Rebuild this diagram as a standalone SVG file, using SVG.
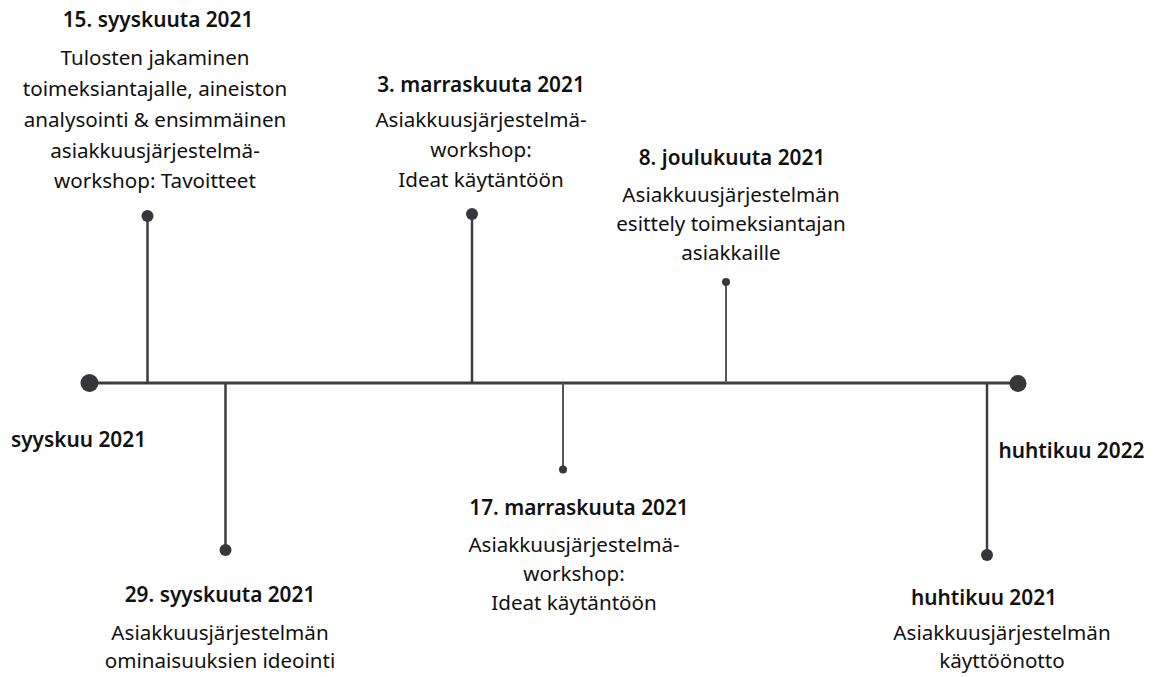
<svg xmlns="http://www.w3.org/2000/svg" width="1159" height="677" viewBox="0 0 1159 677">
<style>
.t{font-family:"Noto Sans","Open Sans",sans-serif;font-size:20.8px;font-weight:600;fill:#111;text-anchor:middle}
.b{font-family:"Noto Sans","Open Sans",sans-serif;font-size:20.6px;font-weight:400;fill:#111;text-anchor:middle}
.main{stroke:#3c3c43;stroke-width:3;fill:none}
.stem{stroke:#3c3c43;stroke-width:2.5;fill:none}
.thin{stroke:#55555b;stroke-width:2;fill:none}
.dot{fill:#36363d}
</style>
<rect width="1159" height="677" fill="#fff"/>
<g id="connectors">
<line class="main" x1="90" y1="383" x2="1018" y2="383"/>
<line class="stem" x1="147.5" y1="216" x2="147.5" y2="383"/>
<line class="stem" x1="225.5" y1="383" x2="225.5" y2="550"/>
<line class="stem" x1="472" y1="214" x2="472" y2="383"/>
<line class="thin" x1="563" y1="383" x2="563" y2="469"/>
<line class="thin" x1="726" y1="282" x2="726" y2="383"/>
<line class="stem" x1="987" y1="383" x2="987" y2="555"/>
</g>
<g id="start">
<circle class="dot" cx="89.5" cy="383" r="9"/>
<text class="t" x="78.5" y="447">syyskuu 2021</text>
</g>
<g id="end">
<circle class="dot" cx="1018" cy="383.5" r="8.5"/>
<text class="t" x="1071.5" y="458">huhtikuu 2022</text>
</g>
<g id="e1">
<circle class="dot" cx="147.5" cy="216" r="6"/>
<text class="t" x="158" y="27">15. syyskuuta 2021</text>
<text class="b" x="155" y="65">Tulosten jakaminen</text>
<text class="b" x="155" y="96">toimeksiantajalle, aineiston</text>
<text class="b" x="155" y="127">analysointi &amp; ensimmäinen</text>
<text class="b" x="155" y="158">asiakkuusjärjestelmä-</text>
<text class="b" x="155" y="188">workshop: Tavoitteet</text>
</g>
<g id="e2">
<circle class="dot" cx="225.5" cy="550" r="6"/>
<text class="t" x="220" y="602">29. syyskuuta 2021</text>
<text class="b" x="220" y="640">Asiakkuusjärjestelmän</text>
<text class="b" x="220" y="668">ominaisuuksien ideointi</text>
</g>
<g id="e3">
<circle class="dot" cx="472" cy="214" r="6"/>
<text class="t" x="481" y="92">3. marraskuuta 2021</text>
<text class="b" x="481" y="127">Asiakkuusjärjestelmä-</text>
<text class="b" x="481" y="157">workshop:</text>
<text class="b" x="481" y="187">Ideat käytäntöön</text>
</g>
<g id="e4">
<circle class="dot" cx="563" cy="469.5" r="4"/>
<text class="t" x="579" y="515">17. marraskuuta 2021</text>
<text class="b" x="574" y="552">Asiakkuusjärjestelmä-</text>
<text class="b" x="574" y="581">workshop:</text>
<text class="b" x="574" y="610">Ideat käytäntöön</text>
</g>
<g id="e5">
<circle class="dot" cx="726" cy="282" r="4"/>
<text class="t" x="732" y="165">8. joulukuuta 2021</text>
<text class="b" x="731" y="202">Asiakkuusjärjestelmän</text>
<text class="b" x="731" y="231">esittely toimeksiantajan</text>
<text class="b" x="731" y="260">asiakkaille</text>
</g>
<g id="e6">
<circle class="dot" cx="987" cy="555" r="6"/>
<text class="t" x="984" y="605">huhtikuu 2021</text>
<text class="b" x="1002" y="640">Asiakkuusjärjestelmän</text>
<text class="b" x="1002" y="668">käyttöönotto</text>
</g>
</svg>
